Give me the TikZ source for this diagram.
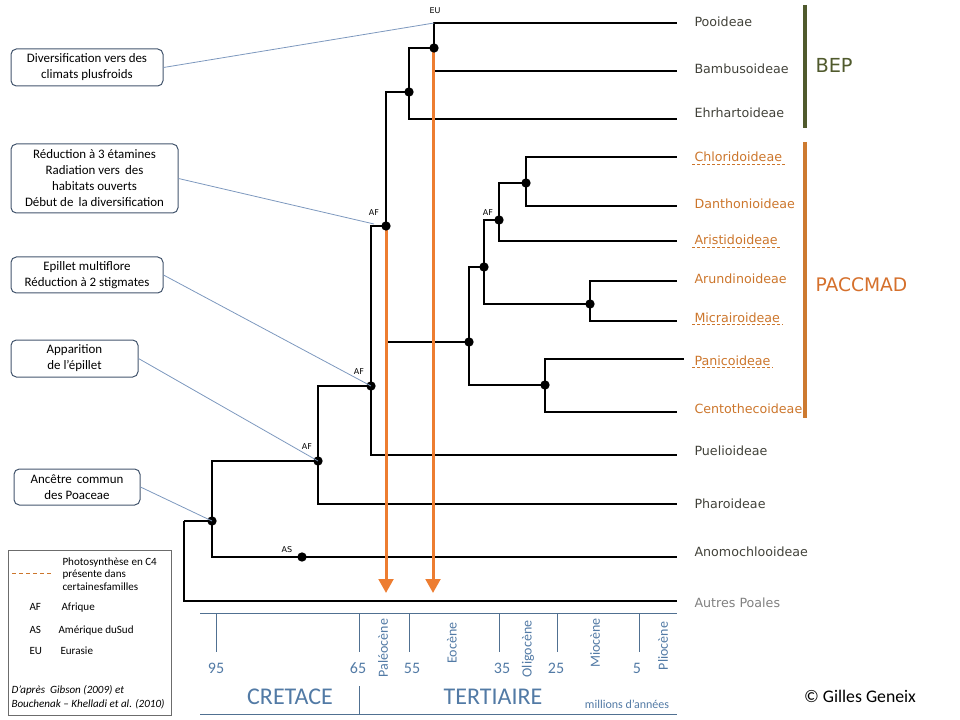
\documentclass[tikz,border=0pt]{standalone}
\usepackage{fontspec}
\setmainfont{Carlito}
\newfontfamily\taxfont{DejaVu Sans}
\usetikzlibrary{arrows.meta}

\definecolor{c4orange}{RGB}{237,125,49}
\definecolor{pacorange}{RGB}{205,122,48}
\definecolor{taxorange}{RGB}{204,118,44}
\definecolor{bepolive}{RGB}{80,90,45}
\definecolor{taxdark}{RGB}{66,66,58}
\definecolor{taxgrey}{RGB}{128,128,128}
\definecolor{linkblue}{RGB}{125,152,190}
\definecolor{boxslate}{RGB}{68,86,110}
\definecolor{timeblue}{RGB}{80,112,145}
\definecolor{timetext}{RGB}{82,122,165}

\tikzset{every picture/.style={line width=0.75pt}}

\begin{document}
\begin{tikzpicture}[x=0.75pt,y=0.75pt,yscale=-1,xscale=1,
  branch/.style={line width=1.5pt},
  knot/.style={circle,fill=black,inner sep=0pt,minimum size=7pt},
  region/.style={font=\taxfont\fontsize{6}{7}\selectfont,inner sep=0.75pt},
  taxon/.style={anchor=base west,inner sep=1.5pt,font=\taxfont\fontsize{9.5}{11}\selectfont,text=taxdark},
  c4taxon/.style={taxon,text=taxorange},
  c4line/.style={taxorange,line width=0.6pt,dash pattern={on 2.25pt off 1.5pt}},
  eventbox/.style={draw=boxslate,rounded corners=4pt,fill=white,align=center,inner sep=1pt,font=\fontsize{9.7}{12}\selectfont},
  eventlink/.style={linkblue,line width=0.6pt},
  dating/.style={c4orange,line width=2.25pt,-{Triangle[length=10.5pt,width=11pt]}},
  legtext/.style={anchor=base west,inner sep=0pt,font=\fontsize{8.3}{10}\selectfont},
  agelabel/.style={text=timetext,inner sep=0.75pt,font=\fontsize{12}{14}\selectfont},
  epoch/.style={text=timetext,inner sep=0.75pt,rotate=90,font=\fontsize{10.5}{12}\selectfont}]
\useasboundingbox (0,0) rectangle (960,720);

% tips of the branches
\coordinate (tPoo) at (677,23);
\coordinate (tBam) at (677,71);
\coordinate (tEhr) at (677,119);
\coordinate (tChl) at (677,157);
\coordinate (tDan) at (677,206);
\coordinate (tAri) at (677,241);
\coordinate (tAru) at (677,281);
\coordinate (tMic) at (677,321);
\coordinate (tPan) at (684,359);
\coordinate (tCen) at (677,412);
\coordinate (tPue) at (677,455);
\coordinate (tPha) at (677,504);
\coordinate (tAno) at (677,557);
\coordinate (tAut) at (677,601);

% inner nodes
\coordinate (nPB) at (434,48);
\coordinate (nBEP) at (409,92);
\coordinate (nBP) at (386,226);
\coordinate (nPAC) at (469,342);
\coordinate (nCA) at (484,267);
\coordinate (nCDA) at (499,220);
\coordinate (nCD) at (526,183);
\coordinate (nAM) at (590,304);
\coordinate (nPC) at (545,385);
\coordinate (nPuel) at (371,386);
\coordinate (nPhar) at (318,461);
\coordinate (nPoa) at (212,521);
\coordinate (nRoot) at (184,521);
\coordinate (nAS) at (302,557);
\coordinate (cEU) at (434,23);
\coordinate (cRed) at (374,224);

%Tree
\draw[branch] (nPB) |- (tPoo) (nPB) |- (tBam);
\draw[branch] (nBEP) |- (nPB) (nBEP) |- (tEhr);
\draw[branch] (nBP) |- (nBEP) (nBP) |- (nPAC);
\draw[branch] (nCD) |- (tChl) (nCD) |- (tDan);
\draw[branch] (nCDA) |- (nCD) (nCDA) |- (tAri);
\draw[branch] (nAM) |- (tAru) (nAM) |- (tMic);
\draw[branch] (nCA) |- (nCDA) (nCA) |- (nAM);
\draw[branch] (nPC) |- (tPan) (nPC) |- (tCen);
\draw[branch] (nPAC) |- (nCA) (nPAC) |- (nPC);
\draw[branch] (nPuel) |- (nBP) (nPuel) |- (tPue);
\draw[branch] (nPhar) |- (nPuel) (nPhar) |- (tPha);
\draw[branch] (nPoa) |- (nPhar) (nPoa) |- (tAno);
\draw[branch] (nRoot) -- (nPoa);
\draw[branch] (nRoot) |- (tAut);
\draw[line width=2.1pt] (184,601) -- (tAut);

%Dating arrows
\coordinate (aPal) at (386,593);
\coordinate (aEoc) at (433,593);
\draw[dating] (nBP) -- (aPal);
\draw[dating] ([xshift=-0.75pt]nPB) -- (aEoc);

%Dots
\foreach \k in {nPB,nBEP,nBP,nCD,nCDA,nCA,nAM,nPAC,nPC,nPuel,nPhar,nPoa,nAS}
  \node[knot] at (\k) {};

% Region labels
\node[region] (rEU) at (435,11) {EU};
\node[region] (rAF1) at (374,213) {AF};
\node[region] (rAF2) at (488,213) {AF};
\node[region] (rAF3) at (359,372) {AF};
\node[region] (rAF4) at (307,447) {AF};
\node[region] (rAS) at (287,550) {AS};

% Text Node
\node[taxon] (lPoo) at (692,27) {Pooideae};
\node[taxon] (lBam) at (692,74) {Bambusoideae};
\node[taxon] (lEhr) at (692,118) {Ehrhartoideae};
\node[c4taxon] (lChl) at (692,162) {Chloridoideae};
\node[c4taxon] (lDan) at (692,209) {Danthonioideae};
\node[c4taxon] (lAri) at (692,245) {Aristidoideae};
\node[c4taxon] (lAru) at (692,284) {Arundinoideae};
\node[c4taxon] (lMic) at (692,322) {Micrairoideae};
\node[c4taxon] (lPan) at (692,365) {Panicoideae};
\node[c4taxon] (lCen) at (692,413) {Centothecoideae};
\node[taxon] (lPue) at (692,455) {Puelioideae};
\node[taxon] (lPha) at (692,508) {Pharoideae};
\node[taxon] (lAno) at (692,556) {Anomochlooideae};
\node[taxon,text=taxgrey] (lAut) at (692,607) {Autres Poales};

% C4 underlines
\foreach \t in {lChl,lAri,lMic,lPan}
  \draw[c4line] (\t.south west) -- (\t.south east);

% Clades
\draw[bepolive,line width=3pt] (805,5) -- (805,128);
\draw[pacorange,line width=3pt] (805,142) -- (805,418);
\node[anchor=west,inner sep=0pt,text=bepolive,font=\taxfont\fontsize{14.5}{16}\selectfont] (cBEP) at (815,65) {BEP};
\node[anchor=west,inner sep=0pt,text=c4orange!90!black,font=\taxfont\fontsize{14}{16}\selectfont] (cPAC) at (815,285) {PACCMAD};

% Event boxes
\node[eventbox,minimum width=114pt,minimum height=27.75pt] (bClim) at (87,67.5) {Diversification vers des\\climats plusfroids};
\node[eventbox,minimum width=125.25pt,minimum height=51.75pt] (bRed) at (94.5,178.5) {Réduction à 3 étamines\\Radiation vers\,\ des\\habitats ouverts\\Début de\,\ la diversification};
\node[eventbox,minimum width=114pt,minimum height=27pt] (bEpi) at (87,275) {Epillet multiflore\\Réduction à 2 stigmates};
\node[eventbox,minimum width=95.25pt,minimum height=27.75pt] (bApp) at (74.5,358.5) {Apparition\\de l’épillet};
\node[eventbox,minimum width=94.5pt,minimum height=27pt] (bAnc) at (77,487) {Ancêtre\,\ commun\\des Poaceae};
\draw[eventlink] (bClim.east) -- (cEU);
\draw[eventlink] (bRed.east) -- (cRed);
\draw[eventlink] (bEpi.east) -- (nPuel);
\draw[eventlink] (bApp.east) -- (nPhar);
\draw[eventlink] (bAnc.east) -- (nPoa);

% Legend
\draw[draw=gray!85!black,line width=0.6pt] (8,550) rectangle (171,715);
\draw[c4line,dash pattern={on 3pt off 2.25pt}] (12,573) -- (53,573);
\node[legtext] (gC4a) at (62,565) {Photosynthèse en C4};
\node[legtext] (gC4b) at (62,577) {présente dans};
\node[legtext] (gC4c) at (62,590) {certainesfamilles};
\node[legtext] (gAF) at (29,610) {AF};
\node[legtext] (gAFt) at (61,610) {Afrique};
\node[legtext] (gAS) at (29,633) {AS};
\node[legtext] (gASt) at (58,633) {Amérique duSud};
\node[legtext] (gEU) at (29,654) {EU};
\node[legtext] (gEUt) at (60,654) {Eurasie};
\node[legtext,font=\itshape\fontsize{8.3}{10}\selectfont] (gRefa) at (11,693) {D’après\ \ Gibson (2009) et};
\node[legtext,font=\itshape\fontsize{8.3}{10}\selectfont] (gRefb) at (11,707) {Bouchenak – Khelladi et al. (2010)};

% Time axis
\draw[timeblue] (200,613) -- (677,613);
\draw[timeblue] (200,714) -- (677,714);
\foreach \tx in {216,359,409,499,557,639}
  \draw[timeblue] (\tx,613) -- (\tx,652);
\draw[timeblue] (359,686) -- (359,714);
\node[agelabel] (m95) at (216,668) {95};
\node[agelabel] (m65) at (358,668) {65};
\node[agelabel] (m55) at (412,668) {55};
\node[agelabel] (m35) at (502,668) {35};
\node[agelabel] (m25) at (556,668) {25};
\node[agelabel] (m5) at (637,668) {5};
\node[epoch] (ePal) at (383,648) {Paléocène};
\node[epoch] (eEoc) at (452,643) {Eocène};
\node[epoch] (eOli) at (528,649) {Oligocène};
\node[epoch] (eMio) at (595,643) {Miocène};
\node[epoch] (ePli) at (663,646) {Pliocène};
\node[text=timetext,inner sep=0pt,font=\fontsize{18}{20}\selectfont] (pCre) at (290,697) {CRETACE};
\node[text=timetext,inner sep=0pt,font=\fontsize{18}{20}\selectfont] (pTer) at (493,697) {TERTIAIRE};
\node[text=timetext,inner sep=0pt,font=\fontsize{9}{11}\selectfont] (pMa) at (627,704) {millions d’années};

\node[inner sep=0pt,font=\fontsize{13.3}{15}\selectfont] (copy) at (860,696) {© Gilles Geneix};

\end{tikzpicture}
\end{document}
